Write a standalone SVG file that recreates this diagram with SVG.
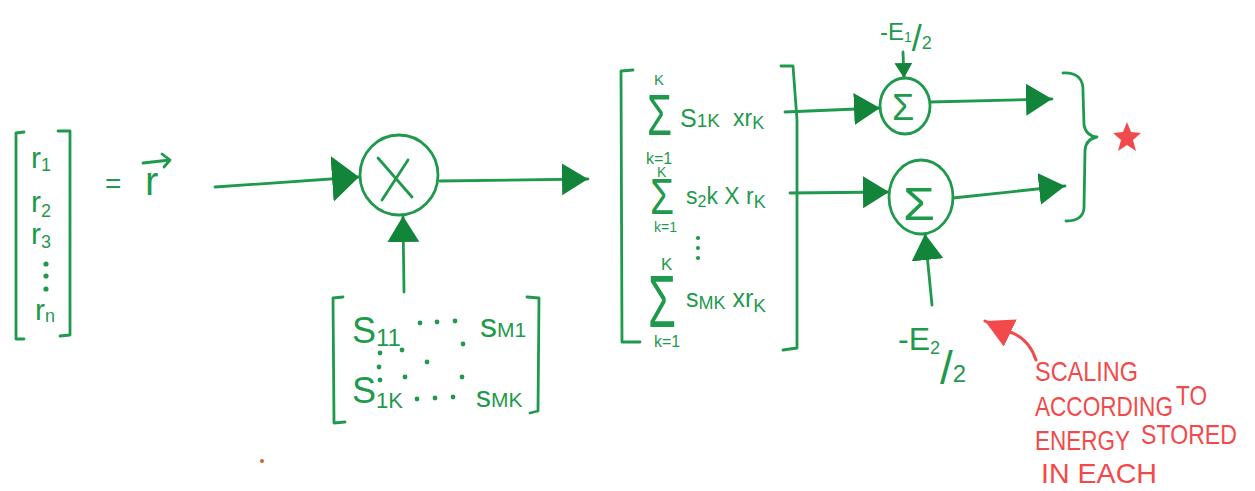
<svg xmlns="http://www.w3.org/2000/svg" width="1255" height="491" viewBox="0 0 1255 491">
<style>
.s{fill:none;stroke:#1f9a4c;stroke-width:2.8;stroke-linecap:round;stroke-linejoin:round}
.c{fill:none;stroke:#1f9a4c;stroke-width:2.8}
.t{font-family:"Liberation Sans",Arial,sans-serif;fill:#1f9a4c}
.rt{font-family:"Liberation Sans",Arial,sans-serif;fill:#f24a4a;font-size:28px}
.dot{fill:#1f9a4c}
.sub{font-size:18px}
</style>
<defs>
<marker id="ah" markerUnits="userSpaceOnUse" markerWidth="30" markerHeight="36" refX="26" refY="16" orient="auto"><path d="M0,0 L26,16 L0,32 Z" fill="#12853a"/></marker>
<marker id="ahw" markerUnits="userSpaceOnUse" markerWidth="30" markerHeight="50" refX="27" refY="23" orient="auto"><path d="M0,0 L27,23 L0,46 Z" fill="#12853a"/></marker>
<marker id="ahs" markerUnits="userSpaceOnUse" markerWidth="20" markerHeight="20" refX="15" refY="9" orient="auto"><path d="M0,0 L15,9 L0,18 Z" fill="#12853a"/></marker>
<marker id="ahr" markerUnits="userSpaceOnUse" markerWidth="32" markerHeight="34" refX="28" refY="15" orient="auto"><path d="M0,0 L28,15 L0,30 Z" fill="#f24a4a"/></marker>
</defs>

<g id="vector-r">
<path class="s" d="M24,132 L16,133 L16,339 L24,339"/>
<path class="s" d="M58,131 L70,131 L70,335 L60,336"/>
<text class="t" x="31" y="168" font-size="30">r<tspan class="sub" dy="3">1</tspan></text>
<text class="t" x="31" y="212" font-size="30">r<tspan class="sub" dy="5">2</tspan></text>
<text class="t" x="31" y="244" font-size="30">r<tspan class="sub" dy="4">3</tspan></text>
<circle class="dot" cx="46" cy="264" r="2.6"/>
<circle class="dot" cx="46" cy="276" r="2.6"/>
<circle class="dot" cx="46" cy="289" r="2.6"/>
<text class="t" x="35" y="320" font-size="30">r<tspan class="sub" dy="2">n</tspan></text>
<text class="t" x="105" y="193" font-size="28">=</text>
<text class="t" x="145" y="195" font-size="40">r</text>
<path class="s" d="M143,163 L170,160 M162,154 L170,160 L164,167"/>
</g>

<g id="multiplier">
<ellipse class="c" cx="399" cy="175" rx="39" ry="40"/>
<path class="s" d="M378,158 L412,197 M382,200 L408,160"/>
</g>

<g id="s-matrix">
<path class="s" d="M343,297 L333,298 L334,423 L345,422"/>
<path class="s" d="M527,297 L539,298 L538,411 L530,413"/>
<text class="t" x="352" y="343" font-size="36">S<tspan font-size="24" dy="3">11</tspan></text>
<text class="t" x="480" y="337" font-size="34">s<tspan font-size="21" dy="0">M1</tspan></text>
<text class="t" x="352" y="403" font-size="36">S<tspan font-size="22" dy="5">1K</tspan></text>
<text class="t" x="476" y="407" font-size="30">s<tspan font-size="21" dy="0">MK</tspan></text>
<circle class="dot" cx="420" cy="323" r="2.4"/><circle class="dot" cx="437" cy="322" r="2.4"/><circle class="dot" cx="455" cy="321" r="2.4"/>
<circle class="dot" cx="417" cy="399" r="2.4"/><circle class="dot" cx="435" cy="398" r="2.4"/><circle class="dot" cx="453" cy="397" r="2.4"/>
<circle class="dot" cx="380" cy="353" r="2.4"/><circle class="dot" cx="379" cy="367" r="2.4"/><circle class="dot" cx="380" cy="380" r="2.4"/>
<circle class="dot" cx="402" cy="350" r="2.4"/><circle class="dot" cx="427" cy="362" r="2.4"/><circle class="dot" cx="463" cy="344" r="2.4"/><circle class="dot" cx="462" cy="377" r="2.4"/><circle class="dot" cx="405" cy="377" r="2.4"/>
</g>

<g id="sum-matrix">
<path class="s" d="M633,70 L621,71 L622,342 L640,342"/>
<path class="s" d="M781,66 L793,66 L797,120 L797,348 L783,350"/>
<text class="t" x="654" y="85" font-size="15">K</text>
<text class="t" x="647" y="135" font-size="58" textLength="25" lengthAdjust="spacingAndGlyphs">Σ</text>
<text class="t" x="646" y="164" font-size="16">k=1</text>
<text class="t" x="680" y="127" font-size="25">S<tspan font-size="19">1K</tspan></text>
<text class="t" x="733" y="126" font-size="23">xr<tspan font-size="18" dy="3">K</tspan></text>

<text class="t" x="657" y="177" font-size="14">K</text>
<text class="t" x="650" y="214" font-size="50" textLength="24" lengthAdjust="spacingAndGlyphs">Σ</text>
<text class="t" x="654" y="232" font-size="14">k=1</text>
<text class="t" x="686" y="204" font-size="23">s<tspan font-size="16" dy="3">2</tspan><tspan dy="-3">k X r</tspan><tspan font-size="18" dy="4">K</tspan></text>
<circle class="dot" cx="698" cy="238" r="2.1"/><circle class="dot" cx="698" cy="248" r="2.1"/><circle class="dot" cx="698" cy="258" r="2.1"/>

<text class="t" x="661" y="270" font-size="17">K</text>
<text class="t" x="648" y="327" font-size="74" textLength="28" lengthAdjust="spacingAndGlyphs">Σ</text>
<text class="t" x="654" y="347" font-size="16">k=1</text>
<text class="t" x="686" y="307" font-size="25">s<tspan font-size="18" dy="2">MK</tspan><tspan font-size="25" dy="-2"> xr</tspan><tspan font-size="19" dy="5">K</tspan></text>
</g>

<g id="adder-1">
<ellipse class="c" cx="905" cy="106" rx="25" ry="28"/>
<text class="t" x="892" y="120" font-size="36">Σ</text>
<text class="t" x="880" y="40" font-size="24">-E<tspan font-size="14" dy="2">1</tspan><tspan font-size="36" dy="9">/</tspan><tspan font-size="18" dy="-2">2</tspan></text>
</g>

<g id="adder-2">
<ellipse class="c" cx="921" cy="197" rx="32" ry="37"/>
<text class="t" x="903" y="220" font-size="46" textLength="32" lengthAdjust="spacingAndGlyphs">Σ</text>
<text class="t" x="898" y="350" font-size="32">-E<tspan font-size="18" dy="4">2</tspan><tspan font-size="46" dy="30">/</tspan><tspan font-size="24" dy="-2">2</tspan></text>
</g>

<g id="output-brace">
<path class="s" d="M1063,73 Q1084,72 1083,92 L1084,125 Q1086,136 1097,137 Q1086,139 1085,150 L1084,208 Q1083,221 1066,221"/>
<polygon points="1127,122 1131,132 1141,133 1133,140 1136,151 1127,145 1118,151 1121,140 1113,133 1123,132" fill="#f24a4a"/>
</g>

<g id="annotation">
<text class="rt" x="1035" y="381" textLength="103" lengthAdjust="spacingAndGlyphs">SCALING</text>
<text class="rt" x="1035" y="416" textLength="138" lengthAdjust="spacingAndGlyphs">ACCORDING</text><text class="rt" x="1176" y="405" font-size="21" textLength="31" lengthAdjust="spacingAndGlyphs">TO</text>
<text class="rt" x="1035" y="450" textLength="95" lengthAdjust="spacingAndGlyphs">ENERGY</text><text class="rt" x="1141" y="444" font-size="26" textLength="96" lengthAdjust="spacingAndGlyphs">STORED</text>
<text class="rt" x="1041" y="483" textLength="116" lengthAdjust="spacingAndGlyphs">IN EACH</text>
<circle cx="262" cy="461" r="2" fill="#c8643c"/>
</g>

<g id="connectors">
<path class="s" d="M215,187 L359,177" marker-end="url(#ahw)"/>
<path class="s" d="M440,181 L588,179" marker-end="url(#ah)"/>
<path class="s" d="M404,292 L403,216" marker-end="url(#ah)"/>
<path class="s" d="M785,112 L880,108" marker-end="url(#ah)"/>
<path class="s" d="M930,102 L1052,99" marker-end="url(#ah)"/>
<path class="s" d="M790,193 L889,192" marker-end="url(#ah)"/>
<path class="s" d="M953,198 L1065,186" marker-end="url(#ah)"/>
<path class="s" d="M903,52 L904,78" marker-end="url(#ahs)"/>
<path class="s" d="M932,305 L925,234" marker-end="url(#ah)"/>
<path d="M1036,360 Q1028,336 1006,331 L985,321" fill="none" stroke="#f24a4a" stroke-width="3" stroke-linecap="round" marker-end="url(#ahr)"/>
</g>
</svg>
